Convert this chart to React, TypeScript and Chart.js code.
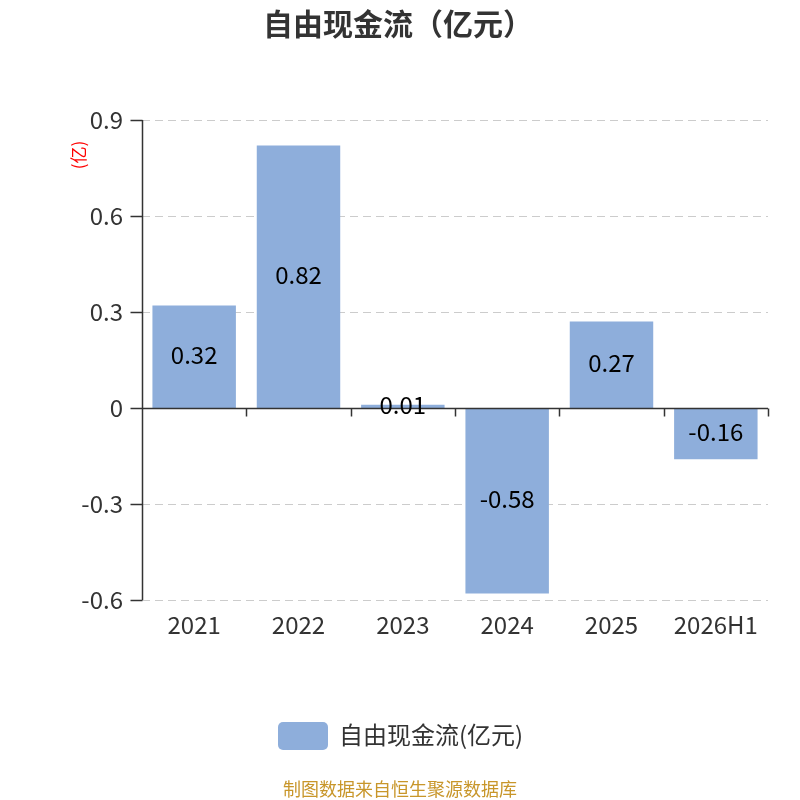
import React, { useEffect, useRef } from "react";
import { Chart, registerables } from "chart.js";

Chart.register(...registerables);

const categories = ["2021", "2022", "2023", "2024", "2025", "2026H1"];
const values = [0.32, 0.82, 0.01, -0.58, 0.27, -0.16];
const yTicks = [-0.6, -0.3, 0, 0.3, 0.6, 0.9];
const seriesName = "自由现金流(亿元)";
const titleText = "自由现金流（亿元）";
const unitText = "(亿)";
const footerText = "制图数据来自恒生聚源数据库";

const BAR_COLOR = "#8eaedb";
const FONT = "'Noto Sans CJK SC', 'Noto Sans', sans-serif";

const decorPlugin = {
  id: "decor",
  beforeDatasetsDraw(chart: any) {
    const { ctx, chartArea, scales } = chart;
    const y = scales.y;
    ctx.save();
    // dashed grid lines
    ctx.strokeStyle = "#cccccc";
    ctx.lineWidth = 1;
    ctx.setLineDash([8, 5]);
    yTicks.forEach((t) => {
      if (t === 0) return;
      const py = Math.round(y.getPixelForValue(t)) + 0.5;
      ctx.beginPath();
      ctx.moveTo(chartArea.left, py);
      ctx.lineTo(chartArea.right, py);
      ctx.stroke();
    });
    ctx.setLineDash([]);
    // y axis line and ticks
    ctx.strokeStyle = "#333333";
    ctx.lineWidth = 1.5;
    const lx = Math.round(chartArea.left) + 0.5;
    ctx.beginPath();
    ctx.moveTo(lx, y.getPixelForValue(yTicks[yTicks.length - 1]));
    ctx.lineTo(lx, y.getPixelForValue(yTicks[0]));
    ctx.stroke();
    yTicks.forEach((t) => {
      const py = Math.round(y.getPixelForValue(t)) + 0.5;
      ctx.beginPath();
      ctx.moveTo(lx - 12, py);
      ctx.lineTo(lx, py);
      ctx.stroke();
    });
    ctx.restore();
  },
  afterDatasetsDraw(chart: any) {
    const { ctx, chartArea, scales } = chart;
    const y = scales.y;
    const x = scales.x;
    ctx.save();
    // zero line with category boundary ticks
    const zy = Math.round(y.getPixelForValue(0)) + 0.5;
    ctx.strokeStyle = "#333333";
    ctx.lineWidth = 1.5;
    ctx.beginPath();
    ctx.moveTo(chartArea.left, zy);
    ctx.lineTo(chartArea.right, zy);
    ctx.stroke();
    const n = categories.length;
    const step = (chartArea.right - chartArea.left) / n;
    for (let i = 1; i <= n; i++) {
      const px = Math.round(x.getPixelForValue(i - 1) + step / 2) + 0.5;
      ctx.beginPath();
      ctx.moveTo(px, zy);
      ctx.lineTo(px, zy + 8);
      ctx.stroke();
    }
    // value labels
    const meta = chart.getDatasetMeta(0);
    ctx.fillStyle = "#000000";
    ctx.font = `24px ${FONT}`;
    ctx.textAlign = "center";
    ctx.textBaseline = "middle";
    meta.data.forEach((bar: any, i: number) => {
      const cy = (bar.y + bar.base) / 2 - 2;
      ctx.fillText(String(values[i]), bar.x, cy);
    });
    // title
    ctx.fillStyle = "#333333";
    ctx.font = `bold 30px ${FONT}`;
    ctx.fillText(titleText, 398, 24);
    // unit label
    ctx.save();
    ctx.translate(79, 155);
    ctx.rotate(-Math.PI / 2);
    ctx.fillStyle = "#ff0000";
    ctx.font = `17px ${FONT}`;
    ctx.fillText(unitText, 0, 0);
    ctx.restore();
    // legend
    ctx.fillStyle = BAR_COLOR;
    ctx.beginPath();
    ctx.roundRect(278, 722, 50, 28, 5);
    ctx.fill();
    ctx.fillStyle = "#333333";
    ctx.font = `24px ${FONT}`;
    ctx.textAlign = "left";
    ctx.fillText(seriesName, 339, 735);
    // footer
    ctx.fillStyle = "#c8962a";
    ctx.font = `18px ${FONT}`;
    ctx.textAlign = "center";
    ctx.fillText(footerText, 400, 789);
    ctx.restore();
  },
};

export default function App() {
  const ref = useRef<HTMLCanvasElement | null>(null);
  useEffect(() => {
    document.body.style.margin = "0";
    const chart = new Chart(ref.current as HTMLCanvasElement, {
      type: "bar",
      data: {
        labels: categories,
        datasets: [
          {
            label: seriesName,
            data: values,
            backgroundColor: BAR_COLOR,
            barPercentage: 0.8,
            categoryPercentage: 1.0,
          },
        ],
      },
      options: {
        animation: false,
        responsive: false,
        devicePixelRatio: 1,
        layout: { padding: { left: 80, right: 32, top: 120, bottom: 160 } },
        plugins: {
          legend: { display: false },
          title: { display: false },
          tooltip: { enabled: false },
        },
        scales: {
          x: {
            grid: { display: false, drawTicks: false },
            border: { display: false },
            ticks: {
              color: "#333333",
              font: { size: 24, family: FONT },
              padding: 10,
              maxRotation: 0,
              autoSkip: false,
            },
            afterFit: (s: any) => {
              s.height = 40;
            },
          },
          y: {
            min: -0.6,
            max: 0.9,
            grid: { display: false, drawTicks: false },
            border: { display: false },
            afterBuildTicks: (s: any) => {
              s.ticks = yTicks.map((v) => ({ value: v }));
            },
            ticks: {
              color: "#333333",
              font: { size: 24, family: FONT },
              padding: 19,
              callback: (v: any) => String(Number(Number(v).toFixed(1))),
            },
            afterFit: (s: any) => {
              s.width = 62;
            },
          },
        },
      },
      plugins: [decorPlugin],
    });
    return () => chart.destroy();
  }, []);
  return (
    <div style={{ position: "absolute", left: 0, top: 0, width: 800, height: 800 }}>
      <canvas ref={ref} width={800} height={800} style={{ width: 800, height: 800 }} />
    </div>
  );
}
